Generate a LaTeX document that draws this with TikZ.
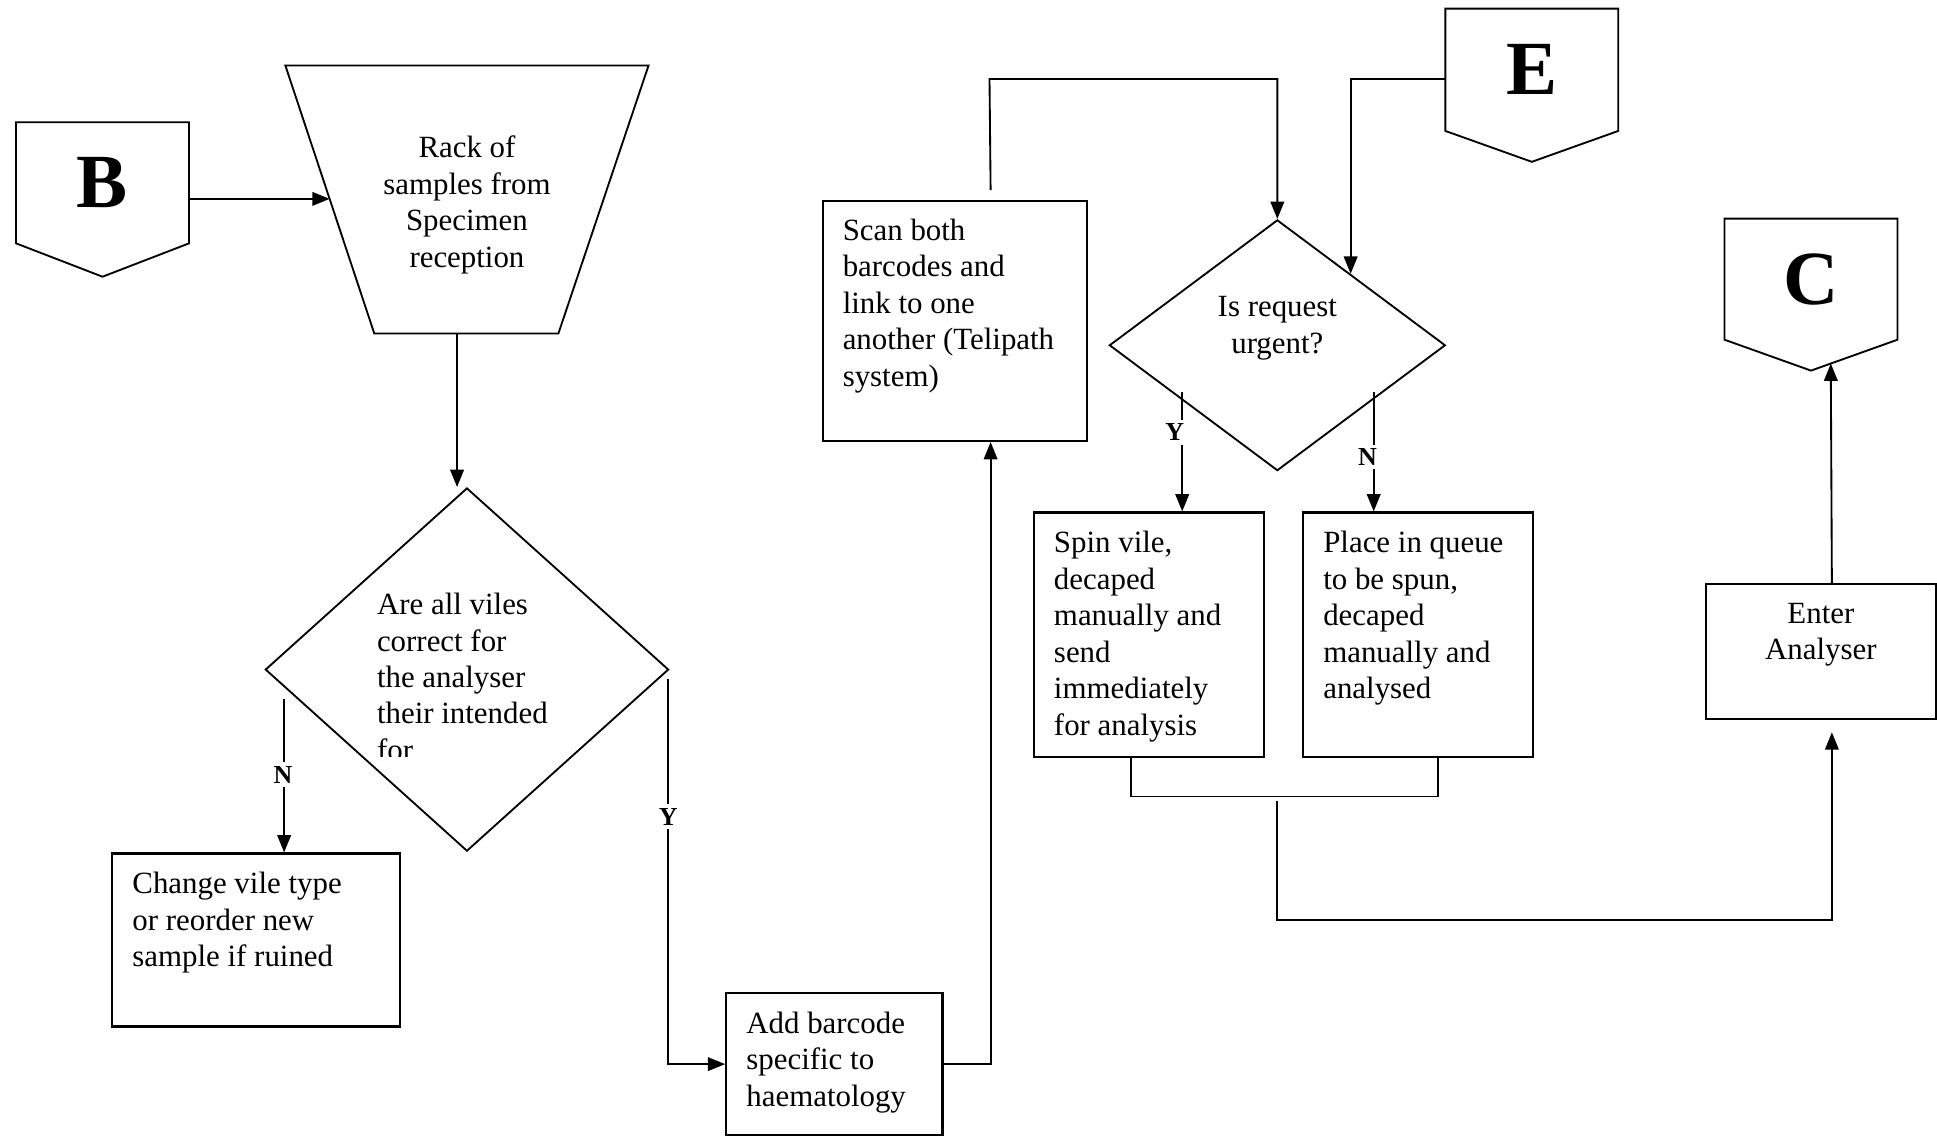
\documentclass[tikz,border=0pt]{standalone}
\usepackage{fontspec}
\setmainfont{Liberation Serif}
\usetikzlibrary{shapes.geometric,arrows.meta,calc}
\begin{document}
\begin{tikzpicture}[x=1pt,y=-1pt,
  line/.style={line width=1.5pt},
  arr/.style={line, -{Triangle[length=14pt,width=11pt]}},
  stepbox/.style={draw, line width=1.8pt, rectangle, anchor=north west, inner sep=0pt},
  txt/.style={font=\fontsize{25}{29.5}\selectfont, align=left, anchor=north west, inner sep=0pt},
  ctxt/.style={font=\fontsize{25}{29.5}\selectfont, align=center, anchor=north, inner sep=0pt},
  yn/.style={font=\fontsize{21}{21}\selectfont\bfseries, fill=white, inner sep=3pt},
  big/.style={font=\fontsize{62}{62}\selectfont\bfseries, inner sep=0pt},
  offpage/.style={draw, line width=1.5pt},
  decision/.style={diamond, draw, line width=1.5pt, inner sep=0pt}
]
\fill[white] (0,0) rectangle (1568,920);
\useasboundingbox (0,0) rectangle (1568,920);

% process boxes
\node[stepbox, minimum width=233pt, minimum height=140pt] (change) at (90,690) {};
\node[stepbox, minimum width=175pt, minimum height=115pt] (add) at (587,803) {};
\node[stepbox, minimum width=214pt, minimum height=194pt] (scan) at (665,162) {};
\node[stepbox, minimum width=186pt, minimum height=198pt] (spin) at (836,414) {};
\node[stepbox, minimum width=186pt, minimum height=198pt] (place) at (1054,414) {};
\node[stepbox, minimum width=186pt, minimum height=109pt] (analyser) at (1380,472) {};

\node[txt] (changetxt) at (107,706) {Change vile type\\or reorder new\\sample if ruined};
\node[txt] (addtxt) at (604,819) {Add barcode\\specific to\\haematology};
\node[txt] (scantxt) at (682,177) {Scan both\\barcodes and\\link to one\\another (Telipath\\system)};
\node[txt] (spintxt) at (853,430) {Spin vile,\\decaped\\manually and\\send\\immediately\\for analysis};
\node[txt] (placetxt) at (1071,430) {Place in queue\\to be spun,\\decaped\\manually and\\analysed};
\node[ctxt] (analysertxt) at (1474,488) {Enter\\Analyser};

% manual input: rack of samples
\coordinate (rtl) at (231,53);
\coordinate (rtr) at (525,53);
\coordinate (rbr) at (452,270);
\coordinate (rbl) at (303,270);
\draw[line] (rtl) -- (rtr) -- (rbr) -- (rbl) -- cycle;
\node[ctxt] (rack) at (378,110) {Rack of\\samples from\\Specimen\\reception};
\coordinate (rackL) at ($(rtl)!0.4977!(rbl)$);
\coordinate (rackout) at (370,270);

% off-page connectors
\draw[offpage] (13,99) -- (153,99) -- (153,197) -- (83,224) -- (13,197) -- cycle;
\node[big] (B) at (83,148) {B};
\coordinate (Bout) at (153,161);

\draw[offpage] (1170,7) -- (1310,7) -- (1310,106) -- (1240,131) -- (1170,106) -- cycle;
\node[big] (E) at (1240,56) {E};
\coordinate (Eout) at (1170,64);

\draw[offpage] (1396,177) -- (1536,177) -- (1536,275) -- (1466,300) -- (1396,275) -- cycle;
\node[big] (C) at (1466,226) {C};
\coordinate (Cpt) at (1466,300);
\coordinate (Cbr) at (1536,275);
\coordinate (Cin) at ($(Cpt)!0.2286!(Cbr)$);

% decisions
\node[decision, minimum width=326.5pt, minimum height=294pt] (q1) at (378,542) {};
\begin{scope}
  \clip (290,460) rectangle (560,612);
  \node[txt] (q1txt) at (305,480) {Are all viles\\correct for\\the analyser\\their intended\\for};
\end{scope}
\node[decision, minimum width=272pt, minimum height=203pt] (q2) at (1034,279.5) {};
\node[ctxt] (q2txt) at (1034,240) {Is request\\urgent?};

% connectors
\draw[arr] (Bout) -- (rackL);
\draw[arr] (rackout) -- (rackout |- q1.north);

\coordinate (q1n) at (230,566);
\draw[arr] (q1n) -- (q1n |- change.north);
\node[yn] (nlab1) at (229,627) {N};

\coordinate (q1y) at (541,550);
\draw[arr] (q1y) |- (add.west);
\node[yn] (ylab1) at (541,661) {Y};

\draw[arr] (add.east) -| ([xshift=29pt]scan.south);

\coordinate (loop) at (801,64);
\draw[arr] ([xshift=29pt,yshift=8pt]scan.north) -- (loop) -| (q2.north);

\coordinate (q2ne) at ($(q2.north)!0.434!(q2.east)$);
\draw[arr] (Eout) -| (q2ne);

\coordinate (q2y) at (957,317);
\draw[arr] (q2y) -- (q2y |- spin.north);
\node[yn] (ylab2) at (951,350) {Y};
\coordinate (q2n) at (1112,317);
\draw[arr] (q2n) -- (q2n |- place.north);
\node[yn] (nlab2) at (1107,370) {N};

\draw[line] ([xshift=-14.5pt]spin.south) -- ++(0,31) -| ([xshift=16pt]place.south);

\coordinate (join) at (1034,648);
\coordinate (low) at (1034,745);
\draw[arr, shorten >=10pt] (join) -- (low) -| ([xshift=9pt]analyser.south);

\draw[arr] ([xshift=9pt]analyser.north) -- (Cin);
\end{tikzpicture}
\end{document}
